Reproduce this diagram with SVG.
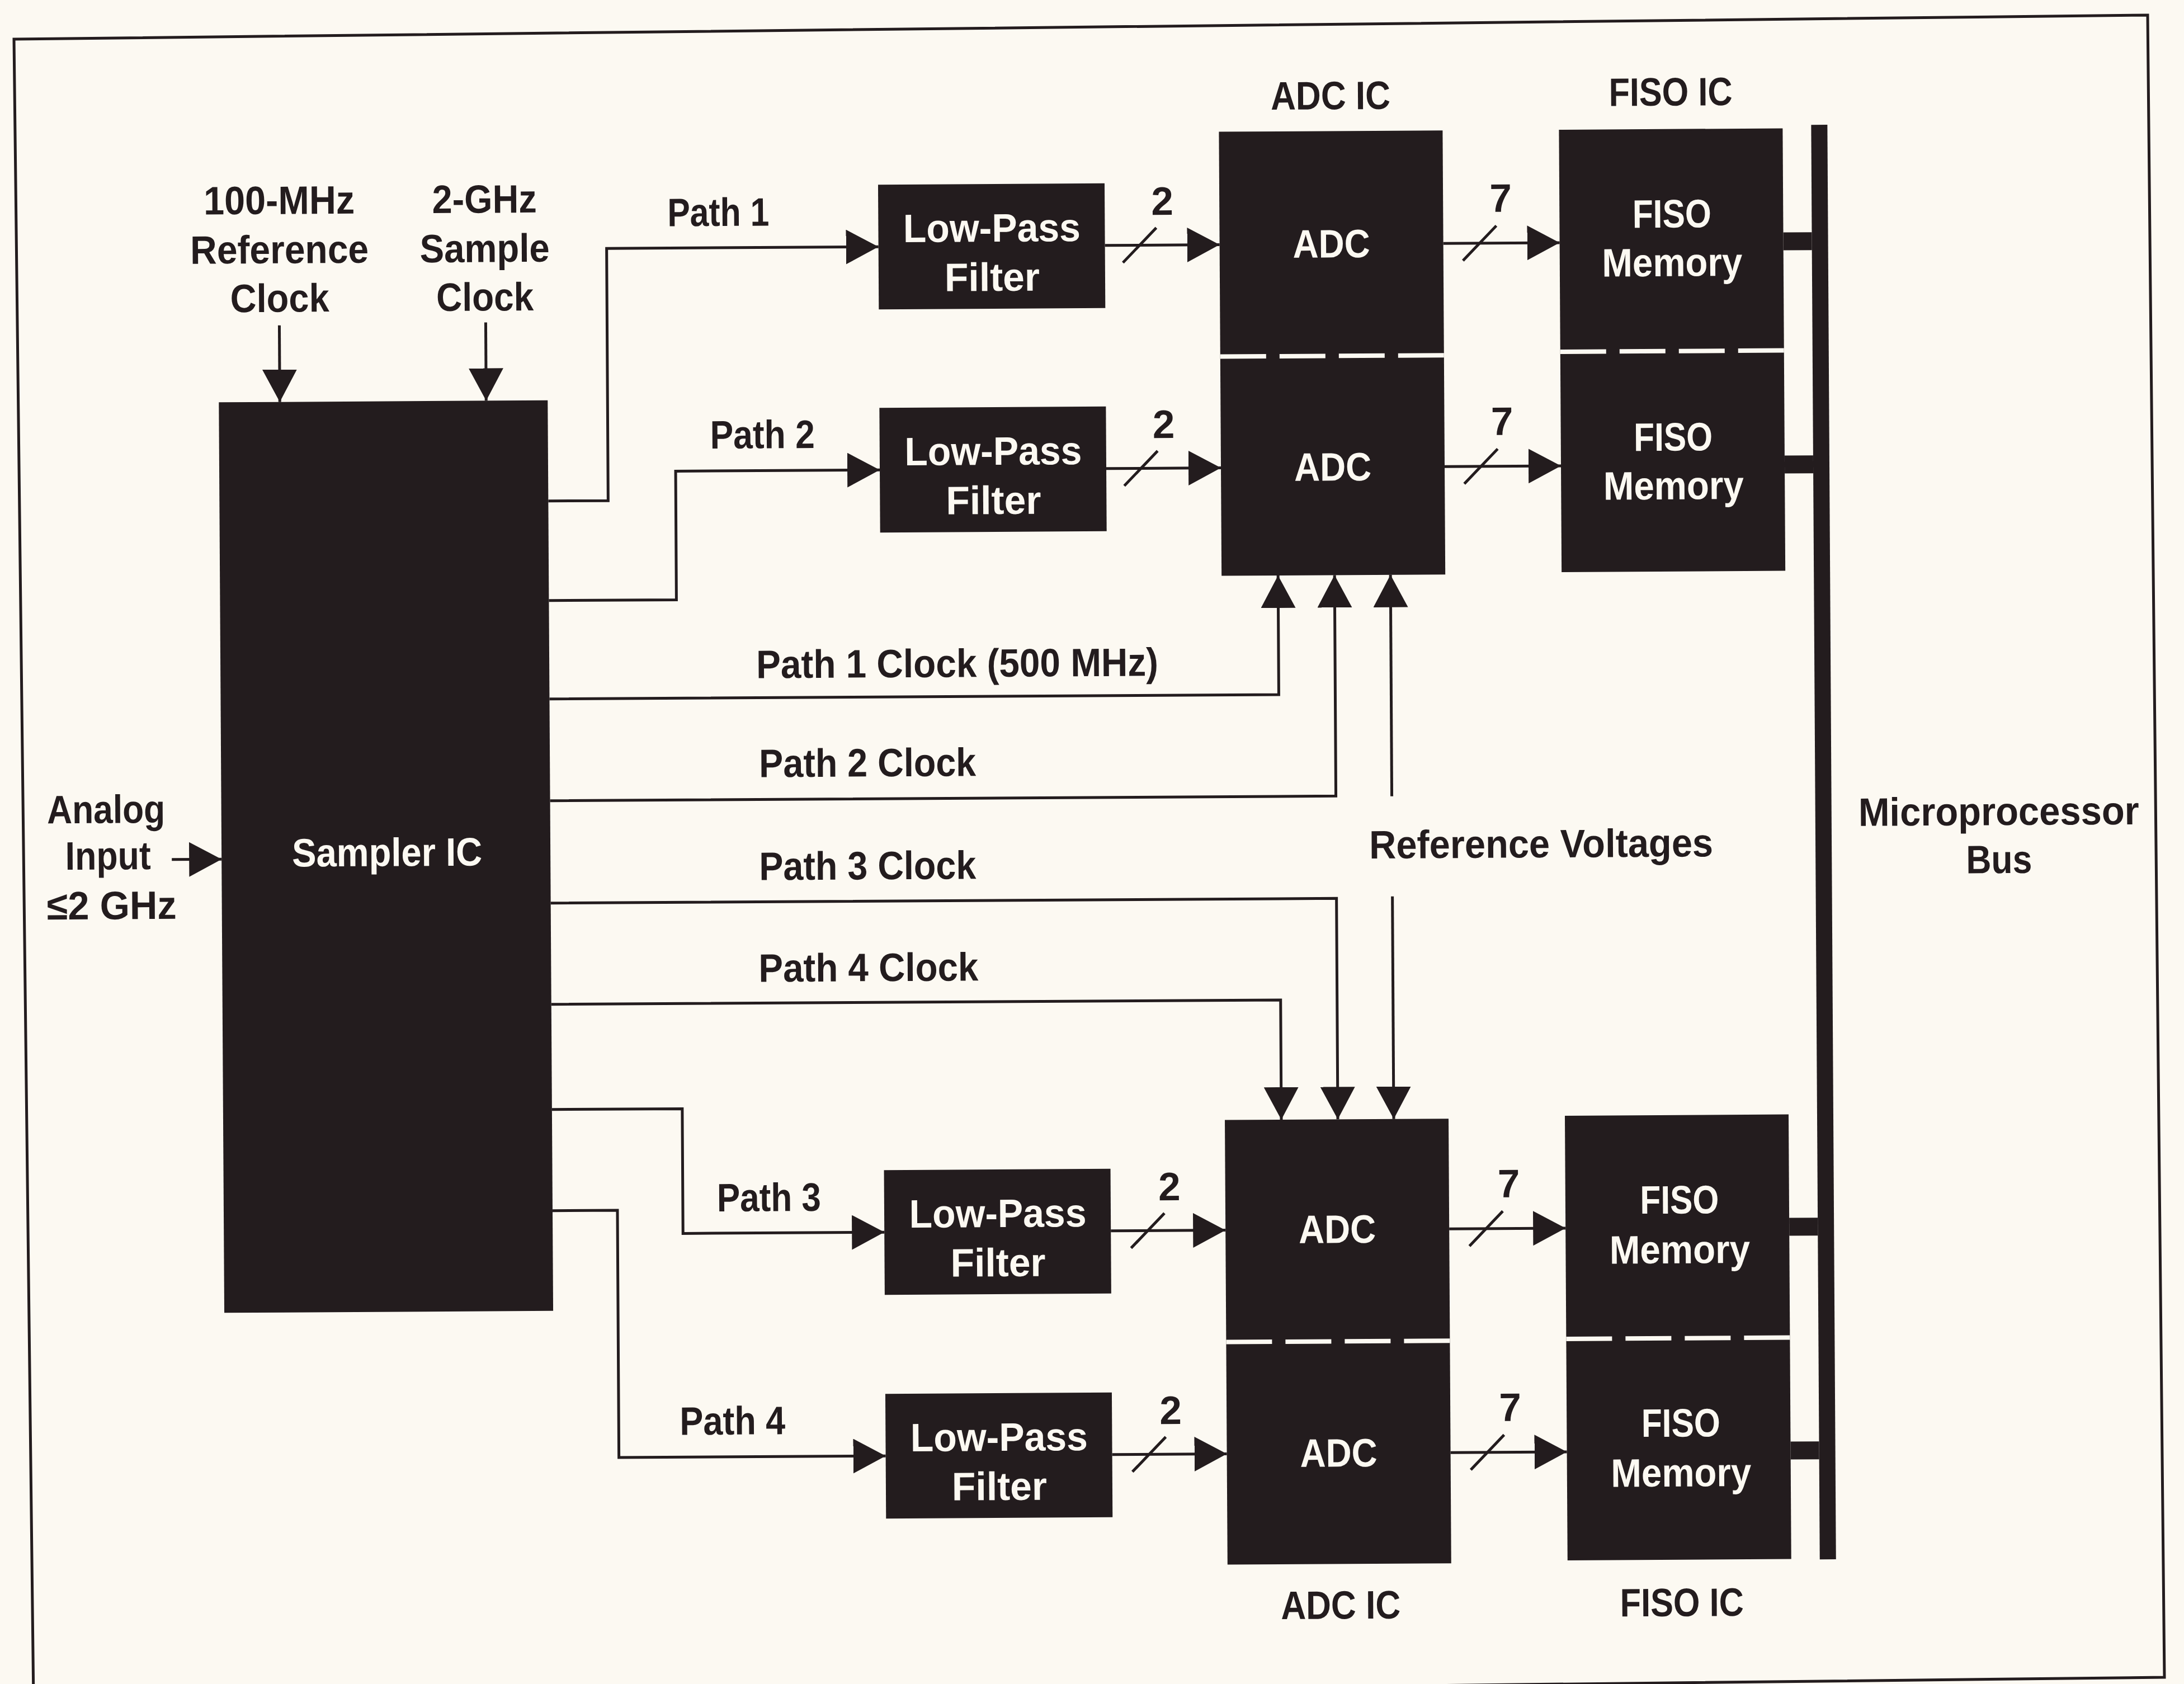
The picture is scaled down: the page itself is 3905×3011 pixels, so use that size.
<svg xmlns="http://www.w3.org/2000/svg" width="3905" height="3011" viewBox="0 0 3905 3011">
<style>
.bg{fill:#fcf9f2}
.blk{fill:#231c1e}
.ln{fill:none;stroke:#231c1e;stroke-width:5}
.arr{marker-end:url(#ah)}
.dash{fill:none;stroke:#fcf9f2;stroke-width:8;stroke-dasharray:82 24}
.t{font-family:"Liberation Sans",Arial,sans-serif;font-weight:bold;font-size:71px;fill:#231c1e}
.w{fill:#fcf9f2}
.m{text-anchor:middle}
</style>
<defs>
<marker id="ah" markerUnits="userSpaceOnUse" markerWidth="58" markerHeight="62" refX="58" refY="31" orient="auto"><path d="M0,0 L58,31 L0,62 z" fill="#231c1e"/></marker>
</defs>
<rect class="bg" x="0" y="0" width="3905" height="3011"/>
<polygon points="25,70 3840,27 3870,2999 60,3042" fill="none" stroke="#231c1e" stroke-width="5"/>
<g transform="rotate(-0.344 1950 1500)">
<g id="connectors">
<path class="ln arr" d="M505 573 V710"/>
<path class="ln arr" d="M874 570 V710"/>
<path class="ln arr" d="M307 1527 H396"/>
<path class="ln arr" d="M984 890 H1091 V439 H1577"/>
<path class="ln arr" d="M984 1068 H1212 V838 H1577"/>
<path class="ln arr" d="M984 1978 H1217 V2201 H1577"/>
<path class="ln arr" d="M984 2159 H1100 V2601 H1577"/>
<path class="ln arr" d="M984 1244 H2288 V1031"/>
<path class="ln arr" d="M984 1426 H2389 V1031"/>
<path class="ln arr" d="M2489 1427 V1031"/>
<path class="ln arr" d="M984 1609 H2389 V2004"/>
<path class="ln arr" d="M2489 1606 V2004"/>
<path class="ln arr" d="M984 1790 H2288 V2004"/>
<path class="ln arr" d="M1982 439 H2187"/>
<path class="ln arr" d="M1982 838 H2187"/>
<path class="ln arr" d="M1982 2201 H2187"/>
<path class="ln arr" d="M1982 2601 H2187"/>
<path class="ln arr" d="M2587 439 H2795"/>
<path class="ln arr" d="M2587 838 H2795"/>
<path class="ln arr" d="M2587 2201 H2795"/>
<path class="ln arr" d="M2587 2601 H2795"/>
<path class="ln" d="M2014 470 L2074 408 M2014 869 L2074 807 M2018 2232 L2078 2170 M2018 2632 L2078 2570"/>
<path class="ln" d="M2622 470 L2682 408 M2622 869 L2682 807 M2623 2232 L2683 2170 M2623 2632 L2683 2570"/>
<text class="t m" x="2085" y="385">2</text>
<text class="t m" x="2085" y="784">2</text>
<text class="t m" x="2087" y="2147">2</text>
<text class="t m" x="2087" y="2547">2</text>
<text class="t m" x="2690" y="383">7</text>
<text class="t m" x="2690" y="782">7</text>
<text class="t m" x="2694" y="2145">7</text>
<text class="t m" x="2694" y="2545">7</text>
<text class="t" x="1200" y="400" textLength="182" lengthAdjust="spacingAndGlyphs">Path 1</text>
<text class="t" x="1274" y="798" textLength="187" lengthAdjust="spacingAndGlyphs">Path 2</text>
<text class="t" x="1278" y="2162" textLength="186" lengthAdjust="spacingAndGlyphs">Path 3</text>
<text class="t" x="1209" y="2561" textLength="189" lengthAdjust="spacingAndGlyphs">Path 4</text>
<text class="t" x="1354" y="1209" textLength="719" lengthAdjust="spacingAndGlyphs">Path 1 Clock (500 MHz)</text>
<text class="t" x="1358" y="1386" textLength="388" lengthAdjust="spacingAndGlyphs">Path 2 Clock</text>
<text class="t" x="1357" y="1570" textLength="388" lengthAdjust="spacingAndGlyphs">Path 3 Clock</text>
<text class="t" x="1355" y="1752" textLength="393" lengthAdjust="spacingAndGlyphs">Path 4 Clock</text>
<text class="t" x="2448" y="1538" textLength="615" lengthAdjust="spacingAndGlyphs">Reference Voltages</text>
</g>
<g id="ref-clock-label">
<text class="t m" x="506" y="374" textLength="270" lengthAdjust="spacingAndGlyphs">100-MHz</text>
<text class="t m" x="506" y="462" textLength="319" lengthAdjust="spacingAndGlyphs">Reference</text>
<text class="t m" x="506" y="549" textLength="177" lengthAdjust="spacingAndGlyphs">Clock</text>
</g>
<g id="sample-clock-label">
<text class="t m" x="873" y="374" textLength="187" lengthAdjust="spacingAndGlyphs">2-GHz</text>
<text class="t m" x="873" y="462" textLength="232" lengthAdjust="spacingAndGlyphs">Sample</text>
<text class="t m" x="873" y="549" textLength="174" lengthAdjust="spacingAndGlyphs">Clock</text>
</g>
<g id="analog-input">
<text class="t m" x="190" y="1461" textLength="211" lengthAdjust="spacingAndGlyphs">Analog</text>
<text class="t m" x="193" y="1544" textLength="153" lengthAdjust="spacingAndGlyphs">Input</text>
<text class="t m" x="199" y="1633" textLength="232" lengthAdjust="spacingAndGlyphs">≤2 GHz</text>
</g>
<g id="sampler-ic">
<rect class="blk" x="396" y="710" width="588" height="1628"/>
<text class="t w m" x="692" y="1541" textLength="340" lengthAdjust="spacingAndGlyphs">Sampler IC</text>
</g>
<g id="lpf1">
<rect class="blk" x="1577" y="328" width="405" height="223"/>
<text class="t w m" x="1780" y="431" textLength="317" lengthAdjust="spacingAndGlyphs">Low-Pass</text>
<text class="t w m" x="1780" y="519" textLength="170" lengthAdjust="spacingAndGlyphs">Filter</text>
</g>
<g id="lpf2">
<rect class="blk" x="1577" y="727" width="405" height="223"/>
<text class="t w m" x="1780" y="830" textLength="317" lengthAdjust="spacingAndGlyphs">Low-Pass</text>
<text class="t w m" x="1780" y="918" textLength="170" lengthAdjust="spacingAndGlyphs">Filter</text>
</g>
<g id="lpf3">
<rect class="blk" x="1577" y="2090" width="405" height="223"/>
<text class="t w m" x="1780" y="2193" textLength="317" lengthAdjust="spacingAndGlyphs">Low-Pass</text>
<text class="t w m" x="1780" y="2281" textLength="170" lengthAdjust="spacingAndGlyphs">Filter</text>
</g>
<g id="lpf4">
<rect class="blk" x="1577" y="2490" width="405" height="223"/>
<text class="t w m" x="1780" y="2593" textLength="317" lengthAdjust="spacingAndGlyphs">Low-Pass</text>
<text class="t w m" x="1780" y="2681" textLength="170" lengthAdjust="spacingAndGlyphs">Filter</text>
</g>
<g id="adc-ic-top">
<text class="t m" x="2387" y="198" textLength="214" lengthAdjust="spacingAndGlyphs">ADC IC</text>
<rect class="blk" x="2187" y="237" width="400" height="794"/>
<line class="dash" x1="2187" y1="639" x2="2587" y2="639"/>
<text class="t w m" x="2387" y="463" textLength="138" lengthAdjust="spacingAndGlyphs">ADC</text>
<text class="t w m" x="2387" y="862" textLength="138" lengthAdjust="spacingAndGlyphs">ADC</text>
</g>
<g id="adc-ic-bottom">
<rect class="blk" x="2187" y="2004" width="400" height="795"/>
<line class="dash" x1="2187" y1="2401" x2="2587" y2="2401"/>
<text class="t w m" x="2387" y="2225" textLength="138" lengthAdjust="spacingAndGlyphs">ADC</text>
<text class="t w m" x="2387" y="2625" textLength="138" lengthAdjust="spacingAndGlyphs">ADC</text>
<text class="t m" x="2389" y="2897" textLength="214" lengthAdjust="spacingAndGlyphs">ADC IC</text>
</g>
<g id="fiso-ic-top">
<text class="t m" x="2995" y="195" textLength="221" lengthAdjust="spacingAndGlyphs">FISO IC</text>
<rect class="blk" x="2795" y="237" width="400" height="791"/>
<line class="dash" x1="2795" y1="634" x2="3195" y2="634"/>
<text class="t w m" x="2996" y="413" textLength="141" lengthAdjust="spacingAndGlyphs">FISO</text>
<text class="t w m" x="2996" y="500" textLength="251" lengthAdjust="spacingAndGlyphs">Memory</text>
<text class="t w m" x="2996" y="812" textLength="141" lengthAdjust="spacingAndGlyphs">FISO</text>
<text class="t w m" x="2996" y="899" textLength="251" lengthAdjust="spacingAndGlyphs">Memory</text>
</g>
<g id="fiso-ic-bottom">
<rect class="blk" x="2795" y="2000" width="400" height="795"/>
<line class="dash" x1="2795" y1="2399" x2="3195" y2="2399"/>
<text class="t w m" x="2999" y="2176" textLength="141" lengthAdjust="spacingAndGlyphs">FISO</text>
<text class="t w m" x="2999" y="2265" textLength="251" lengthAdjust="spacingAndGlyphs">Memory</text>
<text class="t w m" x="2999" y="2575" textLength="141" lengthAdjust="spacingAndGlyphs">FISO</text>
<text class="t w m" x="2999" y="2664" textLength="251" lengthAdjust="spacingAndGlyphs">Memory</text>
<text class="t m" x="2999" y="2896" textLength="221" lengthAdjust="spacingAndGlyphs">FISO IC</text>
</g>
<g id="microprocessor-bus">
<rect class="blk" x="3246" y="231" width="29" height="2565"/>
<rect class="blk" x="3195" y="423" width="51" height="32"/>
<rect class="blk" x="3195" y="822" width="51" height="32"/>
<rect class="blk" x="3195" y="2185" width="51" height="32"/>
<rect class="blk" x="3195" y="2585" width="51" height="32"/>
<text class="t m" x="3574" y="1485" textLength="502" lengthAdjust="spacingAndGlyphs">Microprocessor</text>
<text class="t m" x="3574" y="1571" textLength="118" lengthAdjust="spacingAndGlyphs">Bus</text>
</g>
</g>
</svg>
